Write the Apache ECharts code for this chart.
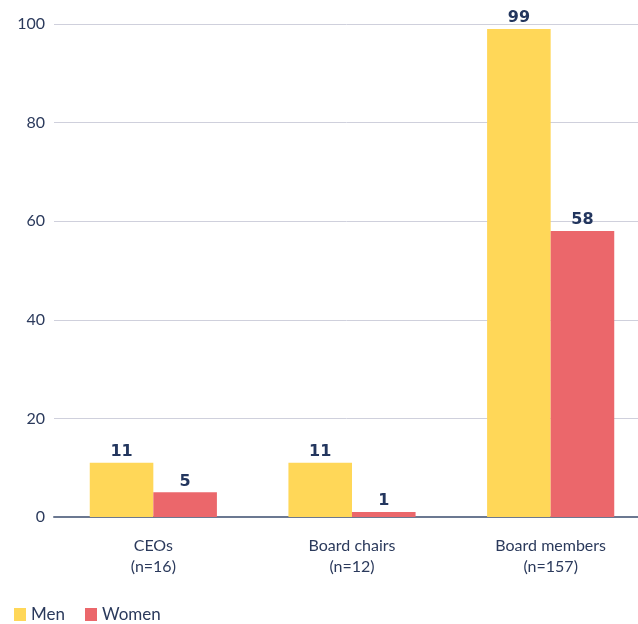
<!DOCTYPE html>
<html>
<head>
<meta charset="utf-8">
<script src="https://cdn.jsdelivr.net/npm/echarts@6/dist/echarts.min.js"></script>
<style>
  html, body { margin: 0; padding: 0; background: #fff; }
</style>
</head>
<body>
<div id="myChart" style="width:638px;height:624px;"></div>
<script>
    // data
    let categories = ['CEOs\n(n=16)', 'Board chairs\n(n=12)', 'Board members\n(n=157)'];
    let men = [11, 11, 99];
    let women = [5, 1, 58];
    let yTicks = [0, 20, 40, 60, 80, 100];

    let textColor = '#2b3a5c';
    let labelStyle = {
        show: true,
        position: 'top',
        distance: 3,
        color: '#23365e',
        fontFamily: 'DejaVu Sans',
        fontWeight: 'bold',
        fontSize: 16
    };

    let myChart = echarts.init(document.getElementById('myChart'));
    myChart.setOption({
        animation: false,
        grid: {
            left: 54,
            right: -12,
            top: 24,
            bottom: 107,
            outerBoundsMode: 'none'
        },
        legend: {
            data: ['Men', 'Women'],
            left: 9,
            top: 601,
            itemWidth: 12,
            itemHeight: 13,
            itemGap: 20,
            icon: 'rect',
            textStyle: { color: textColor, fontFamily: 'Lato', fontSize: 17 }
        },
        xAxis: {
            type: 'category',
            data: categories,
            axisTick: { show: false },
            axisLine: { lineStyle: { color: '#6b7891', width: 2 } },
            axisLabel: {
                color: textColor,
                fontFamily: 'Lato',
                fontSize: 16,
                lineHeight: 21,
                margin: 18
            }
        },
        yAxis: {
            type: 'value',
            min: yTicks[0],
            max: yTicks[yTicks.length - 1],
            interval: 20,
            axisLine: { show: false },
            axisTick: { show: false },
            axisLabel: {
                color: textColor,
                fontFamily: 'Lato',
                fontSize: 16,
                margin: 9
            },
            splitLine: { lineStyle: { color: '#cfd0dc', width: 1 } }
        },
        series: [
            {
                name: 'Men',
                type: 'bar',
                data: men,
                barGap: '0%',
                barCategoryGap: '36%',
                itemStyle: { color: '#ffd758' },
                label: labelStyle
            },
            {
                name: 'Women',
                type: 'bar',
                data: women,
                itemStyle: { color: '#eb676b' },
                label: labelStyle
            }
        ]
    });
</script>
</body>
</html>
